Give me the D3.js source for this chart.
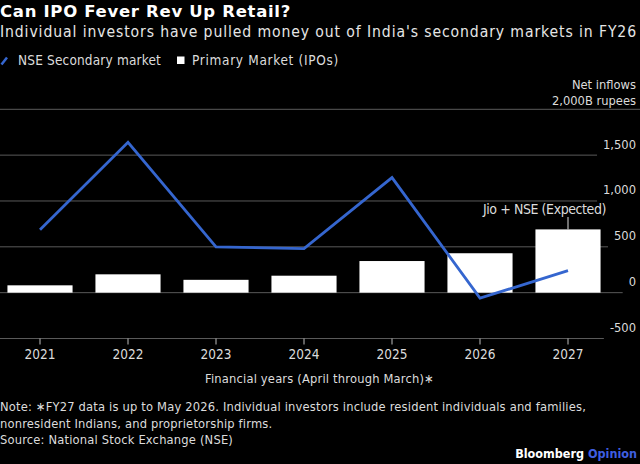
<!DOCTYPE html>
<html>
<head>
<meta charset="utf-8">
<script src="https://cdn.jsdelivr.net/npm/d3@7"></script>
<style>
    body { margin: 0; background: #000; }
    svg { display: block; background: #000; }
    text { font-family: "DejaVu Sans Condensed", "DejaVu Sans", sans-serif; fill: #dcdcdc; }
</style>
</head>
<body>
<div class="content"></div>
<script>
// data (billions of rupees, net inflows)
var years = ["2021", "2022", "2023", "2024", "2025", "2026", "2027"];
var secondaryMarket = [685, 1640, 500, 480, 1255, -60, 240];
var primaryMarket = [80, 200, 140, 185, 345, 430, 690];
var yTicks = [-500, 0, 500, 1000, 1500];
var yTickLabels = ["-500", "0", "500", "1,000", "1,500"];
var noteLines = [
    "Note: \u2217FY27 data is up to May 2026. Individual investors include resident individuals and families,",
    "nonresident Indians, and proprietorship firms.",
    "Source: National Stock Exchange (NSE)"
];

var chartParams = {
    "parentDiv": "div.content",
    "fullWidth": 640,
    "fullHeight": 464,
    "lineColor": "#3566cf",
    "barColor": "#ffffff",
    "gridColor": "#5a5a5a"
};

// spread letters so a text run covers the width it has in the reference
function fitWidth(sel, target){
    var len = sel.node().getComputedTextLength();
    var n = sel.text().length;
    var ls = (target - len) / n;
    sel.style("letter-spacing", ls + "px");
    return ls;
}

var svg = d3.select(chartParams.parentDiv).append("svg")
    .attr("width", chartParams.fullWidth)
    .attr("height", chartParams.fullHeight);

var x = d3.scaleBand()
    .domain(years)
    .range([-4, 612])
    .paddingInner(0.26)
    .paddingOuter(0.13);

var y = d3.scaleLinear()
    .domain([-500, 2000])
    .range([338.5, 109.3]);

//title + subtitle
var title = svg.append("text")
    .attr("x", 0).attr("y", 17)
    .style("font-family", "'DejaVu Sans', sans-serif")
    .style("font-weight", "bold")
    .style("font-size", "16.5px")
    .style("fill", "#ffffff")
    .text("Can IPO Fever Rev Up Retail?");
fitWidth(title, 291);
var subtitle = svg.append("text")
    .attr("x", 0).attr("y", 37)
    .style("font-size", "15.6px")
    .style("fill", "#e6e6e6")
    .text("Individual investors have pulled money out of India's secondary markets in FY26");
fitWidth(subtitle, 637);

//legend
var legend = svg.append("g").attr("class", "legend");
legend.append("line")
    .attr("x1", 1.5).attr("y1", 64.5)
    .attr("x2", 7).attr("y2", 57.5)
    .style("stroke", chartParams.lineColor)
    .style("stroke-width", 2.5);
var leg1 = legend.append("text")
    .attr("x", 18).attr("y", 64.5)
    .style("font-size", "13.5px")
    .text("NSE Secondary market");
fitWidth(leg1, 143);
legend.append("rect")
    .attr("x", 177).attr("y", 56.5)
    .attr("width", 7.5).attr("height", 7.5)
    .style("fill", chartParams.barColor);
var leg2 = legend.append("text")
    .attr("x", 192).attr("y", 64.5)
    .style("font-size", "13.5px")
    .text("Primary Market (IPOs)");
fitWidth(leg2, 147);

//unit label
svg.append("text")
    .attr("x", 636).attr("y", 89)
    .attr("text-anchor", "end")
    .style("font-size", "12.8px")
    .text("Net inflows");
svg.append("text")
    .attr("x", 636).attr("y", 104.5)
    .attr("text-anchor", "end")
    .style("font-size", "12.8px")
    .text("2,000B rupees");

//gridlines with labels
var grid = svg.append("g").attr("class", "grid");
grid.append("line")
    .attr("x1", 0).attr("x2", 640)
    .attr("y1", y(2000)).attr("y2", y(2000))
    .style("stroke", chartParams.gridColor);
yTicks.forEach(function(t, i){
    var label = grid.append("text")
        .attr("x", 636).attr("y", y(t) - 6.5)
        .attr("text-anchor", "end")
        .style("font-size", "12.8px")
        .text(yTickLabels[i]);
    var w = label.node().getComputedTextLength();
    grid.insert("line", "text")
        .attr("x1", 0).attr("x2", 636 - w - 6)
        .attr("y1", y(t)).attr("y2", y(t))
        .style("stroke", chartParams.gridColor);
});

//bars
svg.selectAll(".bar")
    .data(primaryMarket)
.enter().append("rect")
    .attr("class", "bar")
    .attr("x", function(d, i){return x(years[i]);})
    .attr("width", x.bandwidth())
    .attr("y", function(d){return y(Math.max(d, 0));})
    .attr("height", function(d){return Math.abs(y(d) - y(0));})
    .style("fill", chartParams.barColor);

//line
var valueLine = d3.line()
    .x(function(d, i){return x(years[i]) + x.bandwidth() / 2;})
    .y(function(d){return y(d);});
svg.append("path")
    .datum(secondaryMarket)
    .attr("class", "line")
    .attr("d", valueLine)
    .style("fill", "none")
    .style("stroke", chartParams.lineColor)
    .style("stroke-width", 2.8)
    .style("stroke-linejoin", "miter");

//annotation on FY27 bar
var lastYear = years[years.length - 1];
var annX = x(lastYear) + x.bandwidth() / 2;
svg.append("line")
    .attr("x1", annX).attr("x2", annX)
    .attr("y1", 217).attr("y2", y(primaryMarket[primaryMarket.length - 1]))
    .style("stroke", "#dcdcdc");
var ann = svg.append("text")
    .attr("x", 483).attr("y", 214)
    .style("font-size", "14px")
    .text("Jio + NSE (Expected)");
fitWidth(ann, 123);

//x-axis ticks + labels
var xAxis = svg.append("g").attr("class", "x-axis");
xAxis.selectAll(".tick")
    .data(years)
.enter().append("line")
    .attr("class", "tick")
    .attr("x1", function(d){return x(d) + x.bandwidth() / 2;})
    .attr("x2", function(d){return x(d) + x.bandwidth() / 2;})
    .attr("y1", y(-500)).attr("y2", y(-500) + 6)
    .style("stroke", "#bdbdbd");
xAxis.selectAll(".tick-label")
    .data(years)
.enter().append("text")
    .attr("class", "tick-label")
    .attr("x", function(d){return x(d) + x.bandwidth() / 2;})
    .attr("y", 359)
    .attr("text-anchor", "middle")
    .style("font-size", "13.5px")
    .text(function(d){return d;});

//x-label
var xLabel = svg.append("text")
    .attr("x", 205).attr("y", 383)
    .style("font-size", "12.8px")
    .text("Financial years (April through March)\u2217");
fitWidth(xLabel, 229);

//notes
var notes = svg.selectAll(".note")
    .data(noteLines)
.enter().append("text")
    .attr("class", "note")
    .attr("x", 0)
    .attr("y", function(d, i){return 411 + i * 16.5;})
    .style("font-size", "12.8px")
    .text(function(d){return d;});
var noteSpacing = fitWidth(d3.select(notes.nodes()[0]), 586);
notes.style("letter-spacing", noteSpacing + "px");

//branding
var brand = svg.append("text")
    .attr("x", 637).attr("y", 458)
    .attr("text-anchor", "end")
    .style("font-family", "'DejaVu Sans Condensed', sans-serif")
    .style("font-weight", "bold")
    .style("font-size", "12.5px");
brand.append("tspan").style("fill", "#ffffff").text("Bloomberg ");
brand.append("tspan").style("fill", "#3f5fe0").text("Opinion");
</script>
</body>
</html>
